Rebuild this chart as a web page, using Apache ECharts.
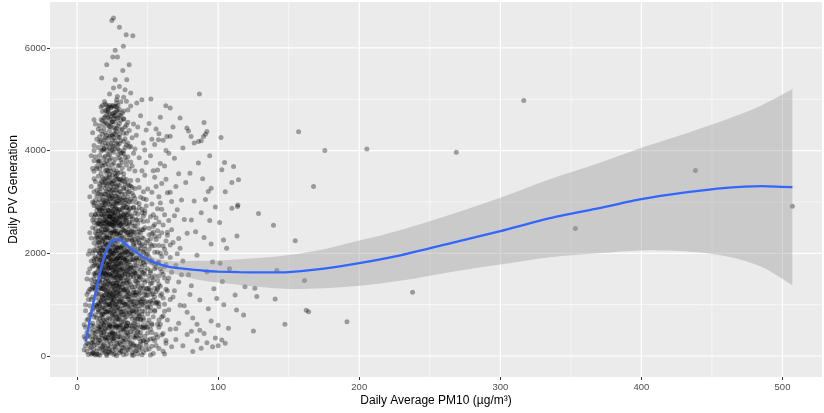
<!DOCTYPE html>
<html><head><meta charset="utf-8">
<script src="https://cdn.jsdelivr.net/npm/echarts@6/dist/echarts.min.js"></script>
<style>html,body{margin:0;padding:0;background:#fff}#c{width:824px;height:413px}</style>
</head><body><div id="c"></div>
<script>
// ---- tick labels ----
const xTicks = [0, 100, 200, 300, 400, 500];
const xMinor = [50, 150, 250, 350, 450];
const yTicks = [0, 2000, 4000, 6000];
const yMinor = [1000, 3000, 5000];

// ---- scatter points [PM10, PV] ----
const ptsBottom = [[14,212],[27,48],[9,377],[33,161],[19,455],[41,96],[23,289],[52,18],[16,134],[37,402],
[11,63],[29,318],[45,227],[21,12],[58,144],[31,471],[17,260],[25,109],[48,386],[35,37],
[13,441],[39,255],[20,85],[55,299],[27,176],[43,462],[15,31],[33,347],[61,92],[22,208],
[47,68],[18,392],[30,123],[12,284],[40,15],[26,433],[53,190],[36,271],[24,59],[44,342],
[10,168],[32,86],[50,448],[19,236],[28,6],[38,155],[57,367],[14,97],[34,418],[23,141],
[46,22],[16,305],[42,193],[29,477],[63,246],[21,359],[35,112],[8,238],[49,273],[26,189],
[39,70],[17,420],[31,226],[54,51],[12,132],[44,185],[24,468],[37,318],[20,145],[60,410],
[28,250],[15,361],[51,134],[33,24],[42,385],[22,74],[47,298],[18,181],[36,458],[13,19],
[25,330],[40,218],[30,58],[56,206],[19,112],[43,39],[27,398],[67,180],[11,455],[34,200],
[23,420],[49,120],[38,475],[16,15],[45,390],[70,320],[32,290],[62,40],[20,330],[26,290]];

const ptsBottom2 = [[12,210],[18,70],[24,420],[30,250],[36,120],[42,560],[15,580],[21,300],[27,130],[33,510],
[39,20],[45,280],[17,160],[23,560],[29,380],[35,590],[41,350],[47,540],[14,40],[20,520],
[26,340],[32,160],[38,240],[44,120],[50,560],[13,360],[19,200],[25,560],[31,90],[37,540],
[43,480],[49,210],[16,500],[22,150],[28,560],[34,320],[40,460],[46,150],[11,250],[52,330],
[18,340],[24,240],[30,560],[36,380],[42,100],[21,40],[27,600],[33,280],[39,580],[15,260],
[23,80],[29,220],[35,460],[41,190],[19,600],[25,450],[31,600],[37,180],[17,520],[26,30]];

const ptsLow = [[17,934],[26,612],[13,1287],[38,780],[22,1410],[31,1043],[45,566],[19,702],[29,1198],[52,876],
[15,1022],[35,1331],[24,843],[41,1115],[20,538],[33,667],[27,1476],[48,1254],[18,1160],[37,953],
[23,588],[56,1040],[14,741],[30,1392],[43,822],[21,1267],[34,524],[26,1085],[50,637],[16,1440],
[39,1190],[28,716],[12,935],[25,1350],[46,1010],[32,792],[19,1045],[58,701],[36,1488],[22,877],
[41,647],[29,958],[17,572],[53,1198],[24,1127],[31,1294],[44,917],[15,659],[38,1062],[27,809],
[20,1377],[47,746],[34,1156],[23,1003],[13,1124],[40,533],[26,1422],[55,891],[30,610],[18,825],
[35,765],[21,1088],[43,1363],[28,1242],[16,871],[49,1060],[33,1455],[25,681],[37,1215],[11,1340],
[22,752],[31,859],[45,1232],[19,1296],[27,548],[52,1408],[14,1212],[39,885],[24,1009],[42,718],
[29,1340],[17,1198],[35,1010],[20,660],[48,553],[32,1134],[26,960],[15,531],[41,1460],[23,1170],
[36,642],[18,1482],[54,764],[28,890],[44,1105],[21,845],[30,1205],[13,803],[38,1394],[25,1064],
[47,1330],[33,928],[19,612],[40,1007],[27,1160],[16,1101],[50,951],[22,1315],[34,759],[57,1295],
[29,570],[24,1458],[43,610],[17,1372],[37,850],[31,700],[12,580],[26,1270],[46,872],[20,1003],
[35,1420],[23,720],[41,969],[28,1059],[15,1280],[53,605],[32,1394],[18,950],[39,725],[25,812],
[44,1474],[21,1234],[30,921],[36,1111],[14,995],[49,1185],[27,680],[33,1051],[22,1133],[40,1286],
[19,811],[47,980],[26,1358],[16,736],[31,1462],[38,594],[24,580],[42,1194],[29,804],[55,1150],
[20,1190],[34,1300],[17,670],[45,698],[23,1389],[28,1427],[36,930],[13,1445],[51,1318],[32,612],
[25,934],[40,822],[18,1317],[30,778],[43,1034],[21,989],[37,1320],[27,1015],[15,860],[48,1438],
[22,1005],[34,1010],[26,780],[19,1410],[39,1056],[29,1112],[16,1332],[44,791],[24,1220],[31,1125],
[35,575],[20,917],[28,755],[46,1110],[23,857],[33,1280],[17,1055],[41,1230],[26,1183],[30,1050],
[14,1380],[38,1157],[22,619],[52,1070],[27,1303],[36,1251],[19,1114],[25,1150],[42,902],[32,985],
[21,700],[29,1470],[24,905],[18,740],[34,866],[58,1020],[16,980],[47,602],[28,1170],[23,1251]];

const ptsMid = [[18,1611],[27,2044],[14,2316],[36,1732],[22,2187],[31,1530],[44,1902],[20,2458],[25,1688],[39,2239],
[16,1855],[29,2371],[47,1613],[23,1978],[33,2106],[12,1764],[41,2412],[26,1567],[19,2051],[35,1860],
[52,2175],[28,1740],[15,2212],[38,1955],[21,1502],[31,2286],[45,1672],[24,2392],[17,1935],[34,1602],
[43,2074],[27,1850],[13,2480],[30,1661],[49,1980],[22,1781],[37,2355],[19,1672],[26,2235],[40,1545],
[32,1913],[16,2108],[24,1555],[29,2005],[55,1700],[21,2320],[36,2085],[18,1812],[42,1766],[27,2435],
[14,1630],[33,2237],[23,1836],[46,2310],[30,2130],[20,1722],[38,1620],[25,2014],[17,2385],[35,1954],
[28,1569],[44,2200],[22,2063],[31,1810],[12,2064],[40,2011],[26,1889],[19,2289],[48,1776],[34,2445],
[24,1721],[15,1941],[37,1835],[29,2220],[21,1641],[53,1528],[32,2031],[27,1643],[41,1853],[18,2170],
[23,2456],[36,1580],[16,1710],[30,1953],[45,2092],[25,2320],[20,1916],[33,1700],[39,2433],[13,1810],
[28,2130],[22,1604],[35,2265],[42,1610],[26,1996],[17,1622],[31,2406],[47,1868],[24,2096],[19,1845],
[38,2103],[29,1756],[14,2139],[34,1874],[21,2157],[50,2250],[27,1945],[40,1704],[23,1709],[32,2322],
[16,2437],[36,1975],[25,1614],[44,1560],[30,2285],[18,1974],[33,2008],[22,2299],[28,1652],[43,2354],
[20,2064],[37,1705],[26,2135],[15,1767],[31,1687],[46,1745],[24,1870],[35,2140],[19,1550],[29,2099],
[41,2124],[27,2310],[17,2056],[32,1801],[23,2195],[38,2290],[13,1570],[21,1808],[34,2053],[48,2143],
[25,1780],[30,1568],[16,2008],[39,1879],[22,1925],[28,2387],[36,1683],[18,2403],[45,1950],[26,1735],
[33,2460],[20,1590],[42,2209],[24,2226],[31,2109],[14,1891],[37,2462],[27,1764],[19,2130],[35,1786],
[51,1925],[23,1585],[29,1911],[17,1765],[40,2342],[25,2172],[32,1590],[21,2460],[38,1760],[28,1881],
[15,2301],[34,1657],[22,1713],[44,2425],[26,2437],[30,1834],[18,1700],[36,2360],[24,1965],[47,2030],
[20,2226],[33,1886],[27,2197],[41,1620],[16,1590],[31,1961],[23,2081],[39,1993],[29,1579],[35,2395]];

const ptsCore2 = [[16,1540],[23,2710],[30,380],[19,2990],[34,1760],[26,1120],[13,2050],[38,2420],[21,860],[28,1670],
[32,2880],[17,460],[25,1950],[36,1240],[14,2560],[29,720],[22,3120],[39,1580],[18,2240],[27,990],
[33,540],[20,1830],[35,2650],[24,1300],[15,310],[31,2100],[37,830],[26,2780],[19,1190],[42,1920],
[23,620],[30,2540],[16,1730],[34,3050],[28,1420],[21,2360],[40,1060],[25,470],[13,1610],[32,1980],
[18,2880],[36,640],[27,1860],[22,1460],[39,2720],[17,1080],[29,2430],[35,1170],[24,2180],[14,470],
[31,1530],[20,2660],[38,1880],[26,350],[15,2430],[33,1290],[23,1790],[41,2530],[19,920],[28,2970],
[36,2030],[21,1580],[30,1070],[17,2630],[25,2820],[34,680],[12,1510],[27,2250],[22,540],[37,1640],
[16,2210],[32,1340],[24,3060],[40,880],[18,1310],[29,1920],[35,2890],[20,360],[26,1660],[13,2750],
[31,860],[23,2050],[39,1350],[15,1200],[28,590],[33,2310],[21,2900],[36,1410],[25,1040],[18,2520],
[30,1730],[14,960],[27,2600],[42,1450],[22,1940],[34,2200],[17,790],[26,2410],[38,970],[20,1450],
[24,370],[31,2720],[16,2860],[29,1250],[35,1900],[19,1720],[37,2570],[23,1010],[32,520],[13,1930],
[27,1530],[21,2150],[40,2190],[25,2550],[15,1690],[33,1620],[18,640],[30,2850],[22,1200],[36,2260],
[28,2050],[17,1870],[34,1000],[24,1720],[20,2980],[39,1970],[26,860],[31,1680],[14,2370],[29,2680],
[23,1580],[35,590],[19,2410],[27,1280],[16,1020],[38,1540],[21,430],[32,2470],[25,1860],[41,740],
[18,2070],[30,1350],[22,2560],[33,810],[15,2040],[28,1790],[36,2750],[20,1060],[24,2390],[12,1850],
[26,1530],[34,2020],[17,2300],[31,380],[23,2300],[37,1450],[29,940],[19,1620],[27,2790],[14,1430],
[21,1930],[35,1480],[25,760],[40,2420],[16,2650],[32,1710],[22,350],[28,2250],[18,1550],[33,2740],
[30,700],[24,2570],[36,1160],[20,2190],[26,2000],[39,870],[15,900],[31,2400],[23,1420],[27,430],
[13,2290],[34,1530],[21,1350],[29,2110],[17,2760],[37,2050],[25,1200],[19,480],[32,1050],[22,2720],
[28,1540],[16,1870],[35,2580],[24,1090],[30,2010],[18,820],[26,2860],[38,2370],[20,1610],[33,1410],
[23,1210],[14,1770],[31,1910],[27,880],[36,1820],[21,2620],[29,1610],[15,2580],[40,1640],[25,2400],
[17,1310],[34,2430],[22,1690],[28,1010],[19,2720],[32,2150],[24,1870],[37,1100],[26,1380],[30,2350],
[16,570],[35,2030],[20,2320],[23,960],[33,2900],[18,1950],[27,2060],[13,990],[31,1210],[25,2690],
[21,1140],[39,2260],[29,2600],[15,1460],[36,1580],[22,2030],[28,2690],[34,1250],[17,2110],[24,2700],
[20,1280],[32,860],[26,2530],[14,2840],[30,1500],[23,2590],[38,1730],[19,1380],[27,1700],[35,840],
[16,2330],[31,2570],[21,1750],[25,1400],[33,1910],[18,1140],[29,1370],[22,2440],[37,2780],[28,2360],
[24,2000],[15,2760],[34,2660],[20,860],[26,1790],[30,2640],[17,1640],[36,1020],[23,2160],[32,1560],
[19,2580],[27,2440],[25,1620],[21,2300],[31,2270],[13,1340],[29,1800],[22,1780],[35,1660],[18,2260],
[28,1370],[24,1540],[16,1460],[33,2170],[26,2670],[20,2460],[30,1280],[23,1900],[38,2030],[27,2920],
[21,1510],[34,1850],[25,2050],[17,2480],[31,1790],[19,1880],[29,2820],[15,2220],[36,2410],[22,2840],
[24,2290],[28,1900],[18,1790],[32,2610],[26,1220],[20,2040],[30,1880],[23,2720],[16,2010],[27,2110]];

const ptsCore3 = [[44,1540],[52,2280],[40,640],[58,1390],[47,2010],[63,300],[42,2650],[55,870],[49,1310],[61,2140],
[45,460],[53,1860],[41,1770],[59,620],[48,2500],[65,1520],[43,1050],[56,2690],[50,1470],[62,1010],
[46,2180],[54,340],[40,2880],[57,1810],[51,700],[64,2350],[44,1280],[60,1940],[47,1120],[53,2960],
[42,400],[58,2610],[49,1830],[66,1100],[45,2400],[55,1560],[41,1350],[61,440],[48,880],[52,1280],
[43,2290],[59,1700],[50,2630],[56,420],[46,1630],[63,2000],[44,770],[54,2410],[40,1880],[57,1050],
[51,1560],[47,300],[62,2750],[42,1530],[58,960],[49,2210],[45,1060],[53,630],[60,2400],[48,1670],
[41,2270],[55,2020],[44,2040],[50,310],[64,1270],[46,820],[52,1660],[43,1700],[59,2980],[47,1820],
[56,1250],[41,980],[54,1480],[48,2830],[61,1130],[45,1790],[50,1180],[42,1240],[57,2440],[46,2790],
[53,1020],[44,2890],[62,1520],[49,560],[40,1230],[55,2330],[47,1480],[58,1830],[51,2080],[43,720],
[60,760],[48,1200],[54,2750],[45,2150],[66,2160],[42,1910],[52,520],[46,1370],[57,620],[41,1610],
[50,1990],[63,1780],[44,1200],[49,3050],[56,1730],[47,2620],[53,2380],[40,2150],[59,1180],[45,720]];

const ptsCore4 = [[39,1720],[43,2480],[51,1040],[46,560],[55,1780],[41,2060],[48,1590],[53,2140],[44,980],[58,1560],
[40,370],[47,2290],[50,1320],[45,1540],[54,1210],[42,860],[49,1940],[56,2270],[43,1420],[52,1850],
[46,2460],[41,550],[57,1330],[48,1040],[44,2260],[51,2490],[39,2600],[53,1420],[47,700],[60,1640],
[42,2840],[45,1320],[50,820],[55,2560],[43,1860],[48,2080],[41,1190],[46,1050],[52,950],[58,2150]];

const ptsUpper = [[19,2643],[28,3105],[15,2890],[34,2560],[23,3377],[41,2781],[26,2955],[17,3260],[31,2698],[45,3090],
[21,2531],[29,3452],[36,2832],[13,3040],[25,2612],[38,3310],[20,3155],[33,2940],[27,2750],[43,2580],
[16,2710],[30,3210],[24,2859],[39,2670],[22,3468],[35,3033],[18,2946],[47,2720],[27,3360],[32,2521],
[14,3230],[40,3122],[25,3071],[21,2790],[37,2605],[29,2854],[17,2570],[34,3396],[23,2705],[44,3280],
[19,3333],[31,3058],[26,2524],[42,2990],[15,2580],[28,2659],[36,3190],[22,2998],[33,3277],[20,2820],
[38,2877],[24,3285],[30,2602],[46,2860],[18,3115],[27,3002],[35,2680],[13,2760],[32,3148],[21,3212],
[40,2525],[25,3420],[29,2760],[16,3050],[37,3010],[23,2570],[43,3425],[19,2880],[34,2776],[26,3180],
[31,3387],[14,2640],[28,2865],[39,3170],[22,2648],[36,2531],[17,3405],[45,2650],[24,2957],[30,3310],
[20,2590],[33,3082],[27,2589],[41,3260],[18,2744],[35,3438],[23,3109],[29,3015],[12,2930],[38,2710],
[25,2781],[32,2855],[21,3030],[44,2970],[16,3348],[30,2976],[26,3405],[37,2868],[19,3029],[34,3155],
[22,2540],[28,3240],[40,2900],[15,3160],[31,2795],[24,3135],[36,3340],[18,2603],[42,2660],[27,2876],
[33,2599],[20,3380],[25,2666],[39,3010],[23,2830],[29,3165],[47,3200],[17,2930],[35,2890],[26,2726],
[21,3316],[32,3033],[14,2910],[38,3420],[24,2617],[30,2720],[43,2760],[19,2761],[28,3440],[36,2960],
[22,3182],[16,2560],[34,2690],[27,3227],[41,3071],[31,2551],[23,3245],[25,3230],[20,2952],[37,3205]];

const ptsUpper2 = [[20,3420],[25,2530],[29,3330],[17,2840],[33,3260],[23,2950],[37,3320],[27,3490],[21,2620],[31,3200],
[18,3040],[35,2750],[24,3380],[28,2570],[15,2990],[32,3420],[22,2830],[26,3300],[19,3160],[30,3080],
[34,2980],[20,2700],[25,3110],[39,3280],[23,3480],[29,2520],[16,3200],[27,3110],[21,3080],[36,3100],
[18,3380],[24,2770],[31,2990],[26,2610],[33,3470],[22,3350],[28,3010],[19,2520],[35,3250],[25,2920],
[30,3430],[17,3140],[23,3030],[32,2700],[20,3260],[27,2650],[38,3050],[24,3210],[21,3460],[29,3080],
[26,3040],[34,3350],[18,2830],[31,3440],[22,2760],[28,3300],[25,3350],[19,3450],[33,2760],[16,2830]];

const ptsTop = [[20,3612],[27,4185],[16,3905],[33,3550],[24,4470],[38,3780],[18,4320],[29,3920],[22,4755],[35,4110],
[14,3690],[26,3630],[31,4400],[19,4025],[41,3605],[23,3820],[28,4620],[17,4190],[36,3880],[25,4290],
[21,3556],[33,4770],[15,4060],[30,3720],[24,4010],[39,4250],[20,4560],[27,3830],[18,3700],[34,4460],
[22,4235],[29,4115],[13,3880],[32,3960],[26,4680],[37,3640],[23,4390],[19,3768],[28,3600],[16,4490],
[35,4340],[21,4080],[25,3730],[30,4530],[17,3560],[40,3950],[24,4830],[31,3820],[22,3920],[27,4410],
[19,4640],[33,4180],[15,3780],[29,4260],[26,3970],[36,4550],[20,4150],[23,3660],[38,4080],[28,4780],
[18,4010],[25,4560],[32,3660],[21,4700],[34,3870],[24,4140],[16,3640],[30,4000],[27,4680],[42,4300],
[22,3740],[19,4430],[31,4690],[26,4250],[14,4220],[35,3720],[23,4620],[29,3700],[20,3890],[37,4390],
[25,4100],[17,4380],[33,3940],[28,4370],[21,4300],[24,3600],[39,3700],[18,4760],[30,4260],[26,4870],
[22,4490],[32,4420],[16,4170],[27,4040],[20,4780],[34,4060],[23,4880],[25,4720],[19,4210],[29,4480],
[21,4880],[28,4930],[24,4310],[26,4620],[22,4850],[30,4800],[20,4910],[25,4880],[27,4860],[23,4720],
[18,4580],[31,4190],[36,4790],[33,4620],[40,4520],[15,4420],[12,4000],[13,4520],[17,4850],[38,4870],
[44,3860],[43,4460],[46,3610],[41,4030],[47,4150],[45,4680],[29,4880],[31,4950],[35,4960],[28,4990]];

const ptsTop2 = [[21,3620],[26,4080],[18,3480],[30,4320],[23,3930],[33,4610],[16,4270],[28,3510],[25,4560],[20,4350],
[35,3800],[22,4140],[31,3580],[27,4740],[19,3860],[24,4660],[29,4030],[17,3990],[34,4230],[26,3760],
[21,4530],[32,3770],[23,4280],[28,4440],[18,4880],[36,4150],[25,3520],[30,3860],[22,4640],[27,3560],
[20,3720],[33,4000],[24,4850],[19,4520],[31,4590],[26,4450],[16,3800],[29,4640],[23,3540],[35,4500],
[21,4000],[25,4200],[28,4140],[22,4800],[30,4140],[24,3850],[27,4550],[20,4660],[32,4730],[26,4330],
[18,4110],[29,3560],[23,4470],[37,4070],[21,4780],[25,4000],[19,4040],[28,4850],[31,3950],[24,4540],
[22,3610],[30,4680],[20,4250],[27,4320],[17,4600],[26,4730],[33,4340],[23,4050],[29,4760],[21,3800],
[13,3400],[14,3650],[15,3500],[12,3600],[14,3120],[13,2400],[12,2700],[15,3800],[16,3300],[17,3720]];

const ptsLeft = [[5,120],[6,340],[5,610],[7,90],[6,880],[8,1250],[7,460],[8,30],[9,1700],[8,720],
[9,2050],[10,260],[9,980],[10,1480],[11,60],[10,2300],[11,640],[11,1150],[12,1900],[11,2650],
[12,380],[12,2980],[7,1500],[6,200],[8,1980],[9,520],[10,820],[11,1750],[12,1320],[10,3300],
[11,3650],[12,4100],[12,3450],[11,2500],[9,150],[10,1100],[8,400],[7,700],[9,2400],[10,1850],
[11,320],[12,760],[12,2200],[6,1000],[7,1200],[8,1620],[10,600],[11,900],[12,40],[11,4350],
[12,4600],[12,3800],[10,2750],[9,1300],[8,1100],[7,250],[6,560],[5,380],[9,800],[10,40],
[12,1600],[11,1400],[11,2000],[12,2600],[12,500],[10,1300],[9,3100],[11,3000],[12,3200],[10,3900]];

const ptsRare = [[24.6,6536],[25.8,6580],[30,6400],[34.8,6257],[39.5,6238],[27,5952],[25.3,5822],[28.6,5822],
[32.8,6030],[21,5672],[36.9,5672],[32.4,5562],[17.5,5412],[35.2,5380],[25.8,5218],[30,5250],[34,5185],
[28.6,5055],[52.3,5004],[45.9,4990],[42.3,4926],[19.4,4958],[23,5100],[38,5120],[33,5040],[27,5380]];

const ptsSpread = [[48,3520],[52,2710],[46,1880],[55,4120],[50,960],[58,2330],[47,3060],[61,1590],[53,460],[49,4400],
[56,3300],[62,2080],[51,1250],[59,3750],[64,700],[54,2520],[66,1920],[48,4010],[57,1470],[60,2860],
[52,3900],[68,1150],[55,2150],[63,3440],[50,1700],[58,560],[65,2640],[47,2460],[53,3190],[70,1760],
[61,4200],[56,1020],[67,3010],[49,2920],[54,3610],[72,2290],[59,1360],[62,870],[51,4530],[64,2410],
[57,2870],[69,3850],[53,1820],[60,3360],[66,520],[48,2780],[74,1580],[55,3480],[63,1300],[58,4330],
[71,2850],[52,1620],[65,3950],[50,3250],[67,1630],[61,2550],[56,4420],[73,990],[54,1090],[68,2210],
[62,3700],[59,2000],[76,2660],[64,1450],[57,3620],[70,3300],[51,2360],[66,4280],[60,1210],[75,1850],
[53,4220],[63,2240],[69,1270],[58,3100],[78,2390],[65,900],[55,1320],[72,3550],[61,780],[67,2460],
[57,2020],[49,3770],[63,4000],[80,1200],[74,3040],[59,4650],[68,4460],[71,1990],[77,3380],[62,1740],
[66,3190],[73,2100],[79,1580],[75,4050],[70,530],[76,980],[64,3180],[69,2730],[72,1440],[78,850],
[81,2650],[83,3020],[80,3560],[85,1960],[82,740],[79,4380],[84,2420],[86,3760],[81,1370],[88,2790],
[87,1090],[90,2310],[83,4150],[85,620],[89,3450],[92,1640],[91,3050],[88,4190],[94,2640],[93,920],
[95,3269],[93,3203],[96,1830],[97,1310],[95,2180],[98,2900],[90,440],[99,1120],[94,3900],[91,4320],
[89.6,4275],[92,4372],[90,4548],[86,4177],[80.8,4275],[77.8,4438],[73,4633],[62.9,4873],[66,4828],[63.6,4275],
[57.7,4210],[86.7,5101],[100,600],[103,1450],[106,2100],[101,2600],[104,1000],[108,1700],[100,200],[105,3200],
[98,350],[96,180],[95,680],[92,260],[88,150],[85,300],[82,90],[78,420],[75,200],[72,640],[81,480],[87,500]];

const ptsFar = [[102,4255],[104.5,3768],[110.9,3690],[114.4,3431],[102.6,3626],[109.7,3378],[114,2943],[113.7,2910],
[109.7,2879],[113.3,2339],[103.8,2261],[101.4,1807],[119,1351],[126,1319],[112,1189],[127.4,1157],[140.4,1111],
[113,897],[118,800],[125,487],[107.3,540],[105,247],[102.6,312],[128.6,2774],[139.2,2547],
[157,4366],[175.6,4002],[205.4,4029],[268.8,3970],[167.6,3300],[154.6,2242],[141.6,1663],[161.2,1468],
[237.8,1241],[162.4,890],[164.1,864],[147.3,617],[191.3,669],[316.6,4977],[438.3,3613],[353.2,2482],[507,2918]];

// ---- smooth fit and confidence band ----
const fitX = [6,8,10,12,15,18,21,24,27,30,33,36,40,45,50,56,63,70,80,90,100,115,130,150,175,200,230,265,300,335,370,400,430,460,485,507];
const fitY = [280,560,840,1100,1480,1830,2066,2215,2262,2265,2215,2140,2060,1960,1880,1810,1750,1715,1685,1660,1645,1632,1627,1635,1700,1807,1965,2197,2430,2684,2880,3054,3180,3275,3310,3288];
const bandX = [6,10,15,20,25,30,35,40,50,60,70,80,90,100,115,130,150,175,200,230,265,300,335,370,400,430,460,485,507];
const bandLow = [150,740,1360,1920,2160,2187,2095,1980,1790,1665,1590,1520,1465,1430,1382,1342,1305,1320,1367,1470,1637,1780,1924,2000,2054,2040,1945,1740,1378];
const bandHigh = [410,960,1540,2080,2310,2337,2245,2140,1970,1875,1840,1850,1855,1860,1882,1912,1965,2080,2247,2460,2757,3080,3444,3760,4054,4320,4605,4880,5198];

const X_MIN = -19.2, X_MAX = 528, Y_MIN = -409, Y_MAX = 6894;

const allPts = [].concat(ptsBottom, ptsBottom2, ptsLow, ptsMid, ptsCore2, ptsCore3, ptsCore4, ptsUpper, ptsUpper2,
  ptsTop, ptsTop2, ptsLeft, ptsRare, ptsSpread, ptsFar);

const gridLines = []
  .concat(xTicks.map(v => ({d: 'x', v, w: 1.2})))
  .concat(xMinor.map(v => ({d: 'x', v, w: 0.6})))
  .concat(yTicks.map(v => ({d: 'y', v, w: 1.2})))
  .concat(yMinor.map(v => ({d: 'y', v, w: 0.6})));

// Catmull-Rom spline through pixel points (drawing helper only)
function splineSegs(p) {
  let d = '';
  for (let i = 0; i < p.length - 1; i++) {
    const p0 = p[i - 1] || p[i], p1 = p[i], p2 = p[i + 1], p3 = p[i + 2] || p[i + 1];
    const c1x = p1[0] + (p2[0] - p0[0]) / 6, c1y = p1[1] + (p2[1] - p0[1]) / 6;
    const c2x = p2[0] - (p3[0] - p1[0]) / 6, c2y = p2[1] - (p3[1] - p1[1]) / 6;
    d += ' C ' + c1x.toFixed(2) + ' ' + c1y.toFixed(2) + ' ' + c2x.toFixed(2) + ' ' + c2y.toFixed(2) +
         ' ' + p2[0].toFixed(2) + ' ' + p2[1].toFixed(2);
  }
  return d;
}

const FONT = '"Liberation Sans", Arial, sans-serif';
const chart = echarts.init(document.getElementById('c'), null, {renderer: 'canvas'});
chart.setOption({
  animation: false,
  backgroundColor: '#ffffff',
  grid: {left: 50, right: 2, top: 2, bottom: 36, show: true, backgroundColor: '#EBEBEB', borderWidth: 0,
         containLabel: false, outerBoundsMode: 'none'},
  xAxis: {
    type: 'value', min: X_MIN, max: X_MAX,
    name: 'Daily Average PM10 (µg/m³)', nameLocation: 'middle', nameGap: 18, nameMoveOverlap: false,
    nameTextStyle: {fontFamily: FONT, fontSize: 12, color: '#000'},
    axisLine: {show: false, onZero: false},
    axisTick: {show: true, length: 3, customValues: xTicks, lineStyle: {color: '#333', width: 1}},
    axisLabel: {customValues: xTicks, formatter: v => String(v), fontFamily: FONT, fontSize: 9.5, color: '#4D4D4D', margin: 5},
    splitLine: {show: false}
  },
  yAxis: {
    type: 'value', min: Y_MIN, max: Y_MAX,
    name: 'Daily PV Generation', nameLocation: 'middle', nameGap: 30, nameMoveOverlap: false,
    nameTextStyle: {fontFamily: FONT, fontSize: 12, color: '#000'},
    axisLine: {show: false, onZero: false},
    axisTick: {show: true, length: 3, customValues: yTicks, lineStyle: {color: '#333', width: 1}},
    axisLabel: {customValues: yTicks, formatter: v => String(v), fontFamily: FONT, fontSize: 9.5, color: '#4D4D4D', margin: 4},
    splitLine: {show: false}
  },
  series: [
    {
      type: 'custom', z: 1, silent: true,
      data: gridLines.map(g => g.d === 'x' ? [g.v, 0] : [0, g.v]),
      renderItem: function (params, api) {
        const g = gridLines[params.dataIndex];
        let p1, p2;
        if (g.d === 'x') { p1 = api.coord([g.v, Y_MIN]); p2 = api.coord([g.v, Y_MAX]); }
        else { p1 = api.coord([X_MIN, g.v]); p2 = api.coord([X_MAX, g.v]); }
        return {type: 'line', shape: {x1: p1[0], y1: p1[1], x2: p2[0], y2: p2[1]},
          style: {stroke: '#FFFFFF', lineWidth: g.w}};
      }
    },
    {
      type: 'scatter', z: 2, silent: true,
      symbol: 'circle', symbolSize: 5,
      itemStyle: {color: 'rgba(0,0,0,0.43)', borderWidth: 0},
      data: allPts
    },
    {
      type: 'custom', z: 3, silent: true,
      data: bandX.map((x, i) => [x, bandLow[i], bandHigh[i]]),
      renderItem: function (params, api) {
        if (params.dataIndex !== 0) return null;
        const up = bandX.map((x, i) => api.coord([x, bandHigh[i]]));
        const lo = bandX.map((x, i) => api.coord([x, bandLow[i]])).reverse();
        const d = 'M ' + up[0][0].toFixed(2) + ' ' + up[0][1].toFixed(2) + splineSegs(up) +
          ' L ' + lo[0][0].toFixed(2) + ' ' + lo[0][1].toFixed(2) + splineSegs(lo) + ' Z';
        return {type: 'path', shape: {pathData: d}, style: {fill: 'rgba(153,153,153,0.4)'}};
      }
    },
    {
      type: 'line', z: 4, silent: true, symbol: 'none', smooth: 0.2,
      lineStyle: {color: '#3366FF', width: 2.3},
      data: fitX.map((x, i) => [x, fitY[i]])
    }
  ]
});
</script></body></html>
